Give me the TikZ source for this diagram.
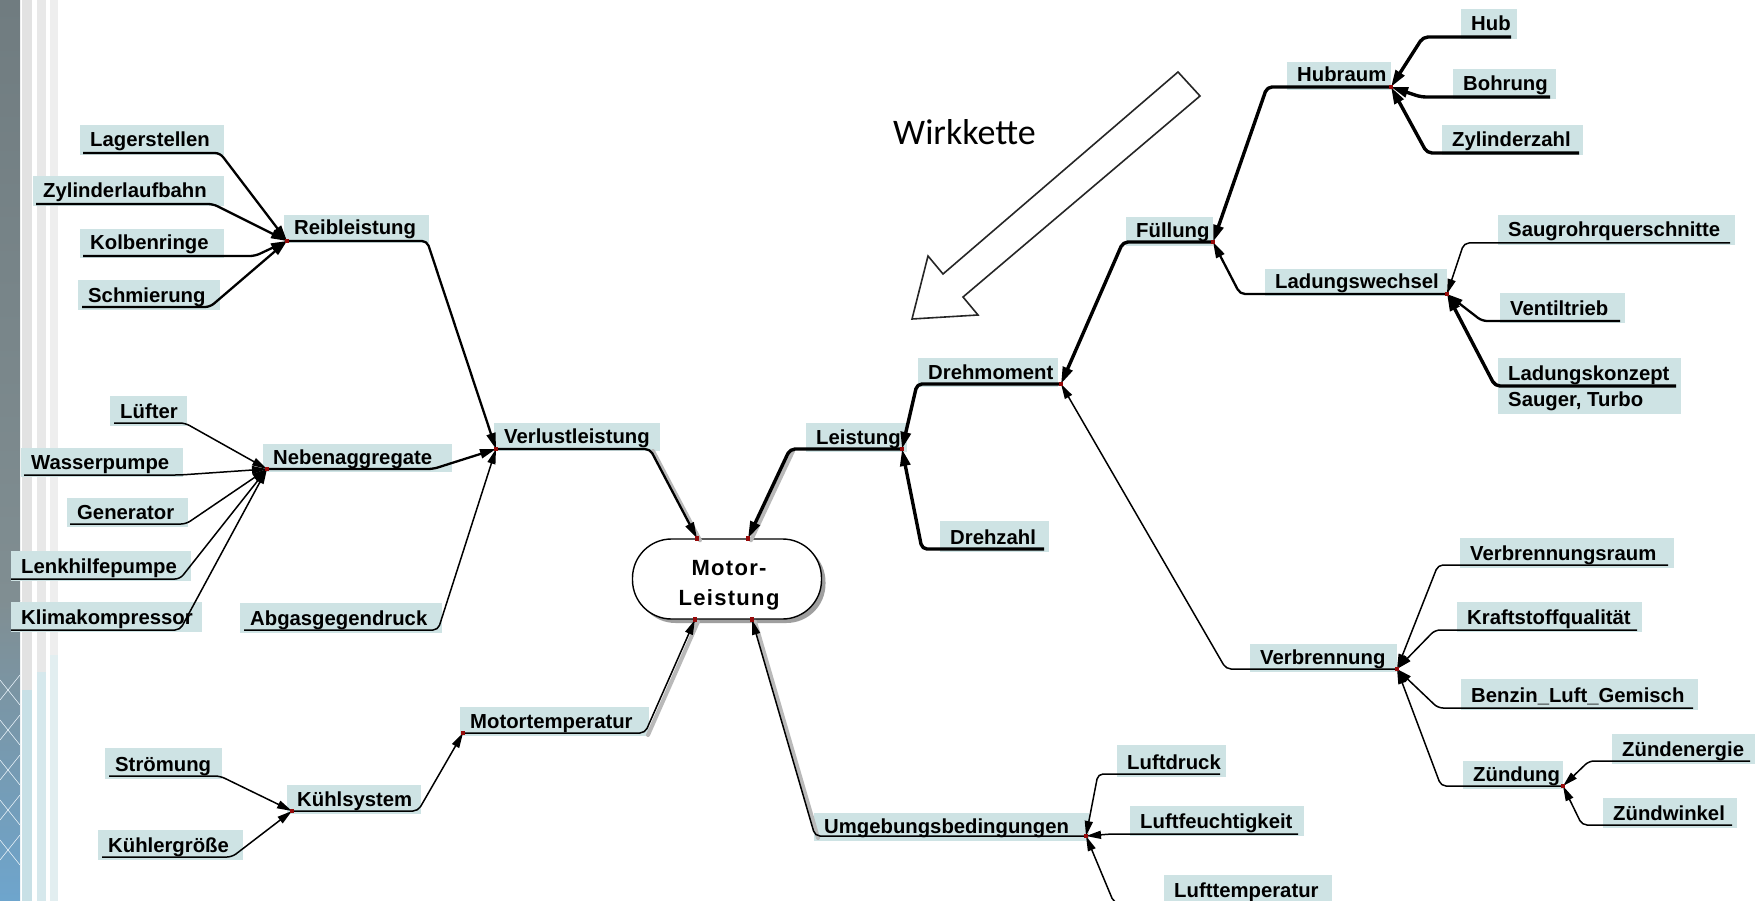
\documentclass[tikz,border=0pt]{standalone}
\usepackage{fontspec}
\setmainfont{Liberation Sans}
\newfontfamily\wirkfont{Carlito}
\usetikzlibrary{arrows.meta,shadows}
\definecolor{boxblue}{RGB}{206,227,228}
\definecolor{dotred}{RGB}{150,10,10}
\definecolor{stripA}{RGB}{226,226,226}
\definecolor{stripB}{RGB}{232,232,232}
\definecolor{stripC}{RGB}{238,238,238}
\definecolor{stripAb}{RGB}{200,224,230}
\definecolor{stripBb}{RGB}{214,232,236}
\definecolor{stripCb}{RGB}{226,238,240}
\definecolor{photoTop}{RGB}{112,124,128}
\definecolor{photoMid}{RGB}{128,142,146}
\definecolor{photoBot}{RGB}{110,165,205}
\newcommand\lab[6]{%
  \node[lblbox, anchor=north west, minimum width=#4-#2, minimum height=#5-#3] (#1) at (#2,#3) {};
  \node[lbltext, anchor=base west] (#1-t) at (#2+10,#5-8) {#6};
}
\begin{document}
\begin{tikzpicture}[x=1pt,y=-1pt,
  lblbox/.style={fill=boxblue, inner sep=0pt, outer sep=0pt},
  lbltext/.style={inner sep=0pt, font=\bfseries\fontsize{20.3}{22}\selectfont},
  conn/.style={rounded corners=5pt, line join=round},
  thk/.style={conn, line width=3.4pt, -{Triangle[length=17pt,width=10pt]}},
  med/.style={conn, line width=2.3pt, -{Triangle[length=16pt,width=9pt]}},
  thn/.style={conn, line width=1.5pt, -{Triangle[length=15pt,width=8pt]}},
  shd/.style={draw=gray!55, line width=4pt, line cap=round},
  dotsq/.style={fill=dotred, inner sep=0pt, minimum size=4.5pt},
]
\useasboundingbox (0,0) rectangle (1755,901);
\clip (0,0) rectangle (1755,901);
\fill[white] (0,0) rectangle (1755,901);

% left decorative strip
\shade[top color=photoTop, bottom color=photoMid] (0,0) rectangle (20,600);
\shade[top color=photoMid, bottom color=photoBot] (0,600) rectangle (20,901);
\foreach \yy in {700,740,780,820,860}
  \draw[white!80!photoBot, line width=0.6pt] (0,\yy) -- (20,\yy-25) (0,\yy-20) -- (20,\yy+5);
\fill[stripA] (22,0) rectangle (32,690); \fill[stripAb] (22,690) rectangle (32,901);
\fill[stripB] (37,0) rectangle (46,672); \fill[stripBb] (37,672) rectangle (46,901);
\fill[stripC] (50,0) rectangle (58,655); \fill[stripCb] (50,655) rectangle (58,901);

% labels
\lab{lager}{80}{125}{224}{155}{Lagerstellen}
\lab{zyl}{33}{176}{224}{206}{Zylinderlaufbahn}
\lab{kolben}{80}{229}{224}{258}{Kolbenringe}
\lab{schmier}{78}{280}{220}{310}{Schmierung}
\lab{reib}{284}{215}{429}{243}{Reibleistung}
\lab{luefter}{110}{396}{187}{426}{Lüfter}
\lab{wasser}{21}{448}{183}{477}{Wasserpumpe}
\lab{gen}{67}{498}{188}{527}{Generator}
\lab{lenk}{11}{551}{191}{581}{Lenkhilfepumpe}
\lab{klima}{11}{602}{202}{632}{Klimakompressor}
\lab{neben}{263}{444}{452}{472}{Nebenaggregate}
\lab{abgas}{240}{603}{442}{633}{Abgasgegendruck}
\lab{verl}{494}{423}{660}{451}{Verlustleistung}
\lab{stroem}{105}{748}{222}{779}{Strömung}
\lab{kuehlg}{98}{830}{243}{860}{Kühlergröße}
\lab{kuehls}{287}{785}{421}{814}{Kühlsystem}
\lab{mtemp}{460}{707}{649}{736}{Motortemperatur}
\lab{leist}{806}{423}{907}{452}{Leistung}
\lab{drehm}{918}{358}{1058}{387}{Drehmoment}
\lab{drehz}{940}{521}{1049}{552}{Drehzahl}
\lab{fuell}{1126}{217}{1213}{246}{Füllung}
\lab{hubraum}{1287}{62}{1391}{90}{Hubraum}
\lab{hub}{1461}{9}{1517}{39}{Hub}
\lab{bohr}{1453}{69}{1556}{99}{Bohrung}
\lab{zylz}{1442}{125}{1583}{155}{Zylinderzahl}
\lab{ladw}{1265}{269}{1447}{296}{Ladungswechsel}
\lab{saug}{1498}{215}{1735}{245}{Saugrohrquerschnitte}
\lab{vent}{1500}{293}{1625}{323}{Ventiltrieb}
\node[lblbox, anchor=north west, minimum width=183, minimum height=56] (ladk) at (1498,358) {};
\node[lbltext, anchor=base west] (ladk-t) at (1508,380) {Ladungskonzept};
\node[lbltext, anchor=base west] (ladk-t2) at (1508,406) {Sauger, Turbo};
\lab{verbr}{1250}{644}{1397}{672}{Verbrennung}
\lab{vraum}{1460}{538}{1674}{568}{Verbrennungsraum}
\lab{kraft}{1457}{602}{1642}{632}{Kraftstoffqualität}
\lab{benzin}{1461}{679}{1698}{710}{Benzin\_Luft\_Gemisch}
\lab{zuend}{1463}{761}{1563}{789}{Zündung}
\lab{zen}{1612}{734}{1755}{764}{Zündenergie}
\lab{zw}{1603}{798}{1737}{828}{Zündwinkel}
\lab{umg}{814}{813}{1089}{841}{Umgebungsbedingungen}
\lab{ldruck}{1117}{745}{1226}{777}{Luftdruck}
\lab{lfeucht}{1130}{806}{1304}{836}{Luftfeuchtigkeit}
\lab{ltemp}{1164}{875}{1332}{905}{Lufttemperatur}

% central node
\node[draw, line width=1.4pt, fill=white, rounded corners=39pt, minimum width=189pt,
      minimum height=80pt, inner sep=0pt,
      drop shadow={shadow xshift=4pt, shadow yshift=-4pt, fill=gray!75, opacity=1}]
      (motor) at (727,579) {};
\node[inner sep=0pt, align=center,
      font=\bfseries\fontsize{22}{30}\selectfont\addfontfeature{LetterSpace=6}]
      (motor-t) at (729,585) {Motor-\\Leistung};
\coordinate (m-tl) at ([xshift=-30pt]motor.north);
\coordinate (m-tr) at ([xshift=21pt]motor.north);
\coordinate (m-bl) at ([xshift=-32pt]motor.south);
\coordinate (m-br) at ([xshift=25pt]motor.south);

% underline end points (l = left end, r = right end, d = connection point)
\coordinate (lager-l) at (83,153);   \coordinate (lager-r) at (220,153);
\coordinate (zyl-l) at (36,204);     \coordinate (zyl-r) at (213,204);
\coordinate (kolben-l) at (83,256);  \coordinate (kolben-r) at (255,256);
\coordinate (schmier-l) at (82,307); \coordinate (schmier-r) at (210,307);
\coordinate (reib-d) at (287,241);   \coordinate (reib-r) at (427,241);
\coordinate (luefter-l) at (114,423);\coordinate (luefter-r) at (185,423);
\coordinate (wasser-l) at (24,475);  \coordinate (wasser-r) at (180,475);
\coordinate (gen-l) at (70,524);     \coordinate (gen-r) at (186,524);
\coordinate (lenk-l) at (11,579);    \coordinate (lenk-r) at (180,579);
\coordinate (klima-l) at (11,630);   \coordinate (klima-r) at (180,630);
\coordinate (neben-d) at (267,469);  \coordinate (neben-r) at (433,469);
\coordinate (abgas-l) at (244,630);  \coordinate (abgas-r) at (438,630);
\coordinate (verl-d) at (496,449);   \coordinate (verl-r) at (650,449);
\coordinate (stroem-l) at (109,776); \coordinate (stroem-r) at (220,776);
\coordinate (kuehlg-l) at (102,857); \coordinate (kuehlg-r) at (232,857);
\coordinate (kuehls-d) at (292,811); \coordinate (kuehls-r) at (418,811);
\coordinate (mtemp-d) at (463,733);  \coordinate (mtemp-r) at (645,733);
\coordinate (leist-d) at (902,449);  \coordinate (leist-l) at (790,449);
\coordinate (drehm-d) at (1061,384); \coordinate (drehm-l) at (917,384);
\coordinate (drehz-r) at (1044,549); \coordinate (drehz-l) at (922,549);
\coordinate (fuell-d) at (1213,242); \coordinate (fuell-l) at (1123,242);
\coordinate (hubraum-d) at (1391,87);\coordinate (hubraum-l) at (1267,87);
\coordinate (hub-r) at (1511,37);    \coordinate (hub-l) at (1423,37);
\coordinate (bohr-r) at (1550,97);   \coordinate (bohr-l) at (1421,97);
\coordinate (zylz-r) at (1579,153);  \coordinate (zylz-l) at (1427,153);
\coordinate (ladw-d) at (1447,294);  \coordinate (ladw-l) at (1240,294);
\coordinate (saug-r) at (1730,243);  \coordinate (saug-l) at (1464,243);
\coordinate (vent-r) at (1620,321);  \coordinate (vent-l) at (1482,321);
\coordinate (ladk-r) at (1676,386);  \coordinate (ladk-l) at (1495,386);
\coordinate (verbr-d) at (1397,669); \coordinate (verbr-l) at (1226,669);
\coordinate (vraum-r) at (1668,565); \coordinate (vraum-l) at (1438,565);
\coordinate (kraft-r) at (1637,630); \coordinate (kraft-l) at (1435,630);
\coordinate (benzin-r) at (1693,708);\coordinate (benzin-l) at (1438,708);
\coordinate (zuend-d) at (1563,786); \coordinate (zuend-l) at (1441,786);
\coordinate (zen-r) at (1750,761);   \coordinate (zen-l) at (1589,761);
\coordinate (zw-r) at (1732,825);    \coordinate (zw-l) at (1582,825);
\coordinate (umg-d) at (1086,836);   \coordinate (umg-l) at (815,836);
\coordinate (ldruck-r) at (1220,774);\coordinate (ldruck-l) at (1098,774);
\coordinate (lfeucht-r) at (1298,834);\coordinate (lfeucht-l) at (1111,834);
\coordinate (ltemp-r) at (1332,903); \coordinate (ltemp-l) at (1114,903);

% shadows of the four main connectors
\draw[shd, transform canvas={xshift=3pt,yshift=-2pt}] (verl-r) -- (m-tl);
\draw[shd, transform canvas={xshift=3pt,yshift=-2pt}] (leist-l) -- (m-tr);
\draw[shd, transform canvas={xshift=3pt,yshift=-2pt}] (mtemp-r) -- (m-bl);
\draw[shd, transform canvas={xshift=3pt,yshift=-2pt}] (umg-l) -- (m-br);

% connectors, left side
\draw[med] (lager-l) -- (lager-r) -- (reib-d);
\draw[med] (zyl-l) -- (zyl-r) -- (reib-d);
\draw[med] (kolben-l) -- (kolben-r) -- (reib-d);
\draw[med] (schmier-l) -- (schmier-r) -- (reib-d);
\draw[med] (reib-d) -- (reib-r) -- (verl-d);
\draw[thn] (luefter-l) -- (luefter-r) -- (neben-d);
\draw[thn] (wasser-l) -- (wasser-r) -- (neben-d);
\draw[thn] (gen-l) -- (gen-r) -- (neben-d);
\draw[thn] (lenk-l) -- (lenk-r) -- (neben-d);
\draw[thn] (klima-l) -- (klima-r) -- (neben-d);
\draw[med] (neben-d) -- (neben-r) -- (verl-d);
\draw[thn] (abgas-l) -- (abgas-r) -- (verl-d);
\draw[med] (verl-d) -- (verl-r) -- (m-tl);
\draw[thn] (stroem-l) -- (stroem-r) -- (kuehls-d);
\draw[thn] (kuehlg-l) -- (kuehlg-r) -- (kuehls-d);
\draw[thn] (kuehls-d) -- (kuehls-r) -- (mtemp-d);
\draw[thn] (mtemp-d) -- (mtemp-r) -- (m-bl);

% connectors, right side
\draw[thk] (leist-d) -- (leist-l) -- (m-tr);
\draw[thk] (drehm-d) -- (drehm-l) -- (leist-d);
\draw[thk] (drehz-r) -- (drehz-l) -- (leist-d);
\draw[thk] (fuell-d) -- (fuell-l) -- (drehm-d);
\draw[thn] (verbr-d) -- (verbr-l) -- (drehm-d);
\draw[thk] (hubraum-d) -- (hubraum-l) -- (fuell-d);
\draw[med] (ladw-d) -- (ladw-l) -- (fuell-d);
\draw[thk] (hub-r) -- (hub-l) -- (hubraum-d);
\draw[thk] (bohr-r) -- (bohr-l) -- (hubraum-d);
\draw[thk] (zylz-r) -- (zylz-l) -- (hubraum-d);
\draw[thn] (saug-r) -- (saug-l) -- (ladw-d);
\draw[med] (vent-r) -- (vent-l) -- (ladw-d);
\draw[thk] (ladk-r) -- (ladk-l) -- (ladw-d);
\draw[thn] (vraum-r) -- (vraum-l) -- (verbr-d);
\draw[thn] (kraft-r) -- (kraft-l) -- (verbr-d);
\draw[thn] (benzin-r) -- (benzin-l) -- (verbr-d);
\draw[thn] (zuend-d) -- (zuend-l) -- (verbr-d);
\draw[thn] (zen-r) -- (zen-l) -- (zuend-d);
\draw[thn] (zw-r) -- (zw-l) -- (zuend-d);
\draw[thn] (umg-d) -- (umg-l) -- (m-br);
\draw[thn] (ldruck-r) -- (ldruck-l) -- (umg-d);
\draw[thn] (lfeucht-r) -- (lfeucht-l) -- (umg-d);
\draw[thn] (ltemp-r) -- (ltemp-l) -- (umg-d);

% red connection points
\foreach \p in {reib-d,neben-d,verl-d,kuehls-d,mtemp-d,leist-d,drehm-d,fuell-d,
  hubraum-d,ladw-d,verbr-d,zuend-d,umg-d,m-tl,m-tr,m-bl,m-br}
  \node[dotsq] at (\p) {};

% Wirkkette
\node[font=\wirkfont\fontsize{36}{40}\selectfont, anchor=base west, inner sep=0pt] (wirk) at (893,145) {Wirkkette};
\draw[line width=1.6pt, draw=black!85, fill=white, line join=miter]
  (1178,72) -- (1200,96) -- (963,297) -- (978,315) -- (912,319) -- (928,256) -- (943,274) -- cycle;
\end{tikzpicture}
\end{document}
